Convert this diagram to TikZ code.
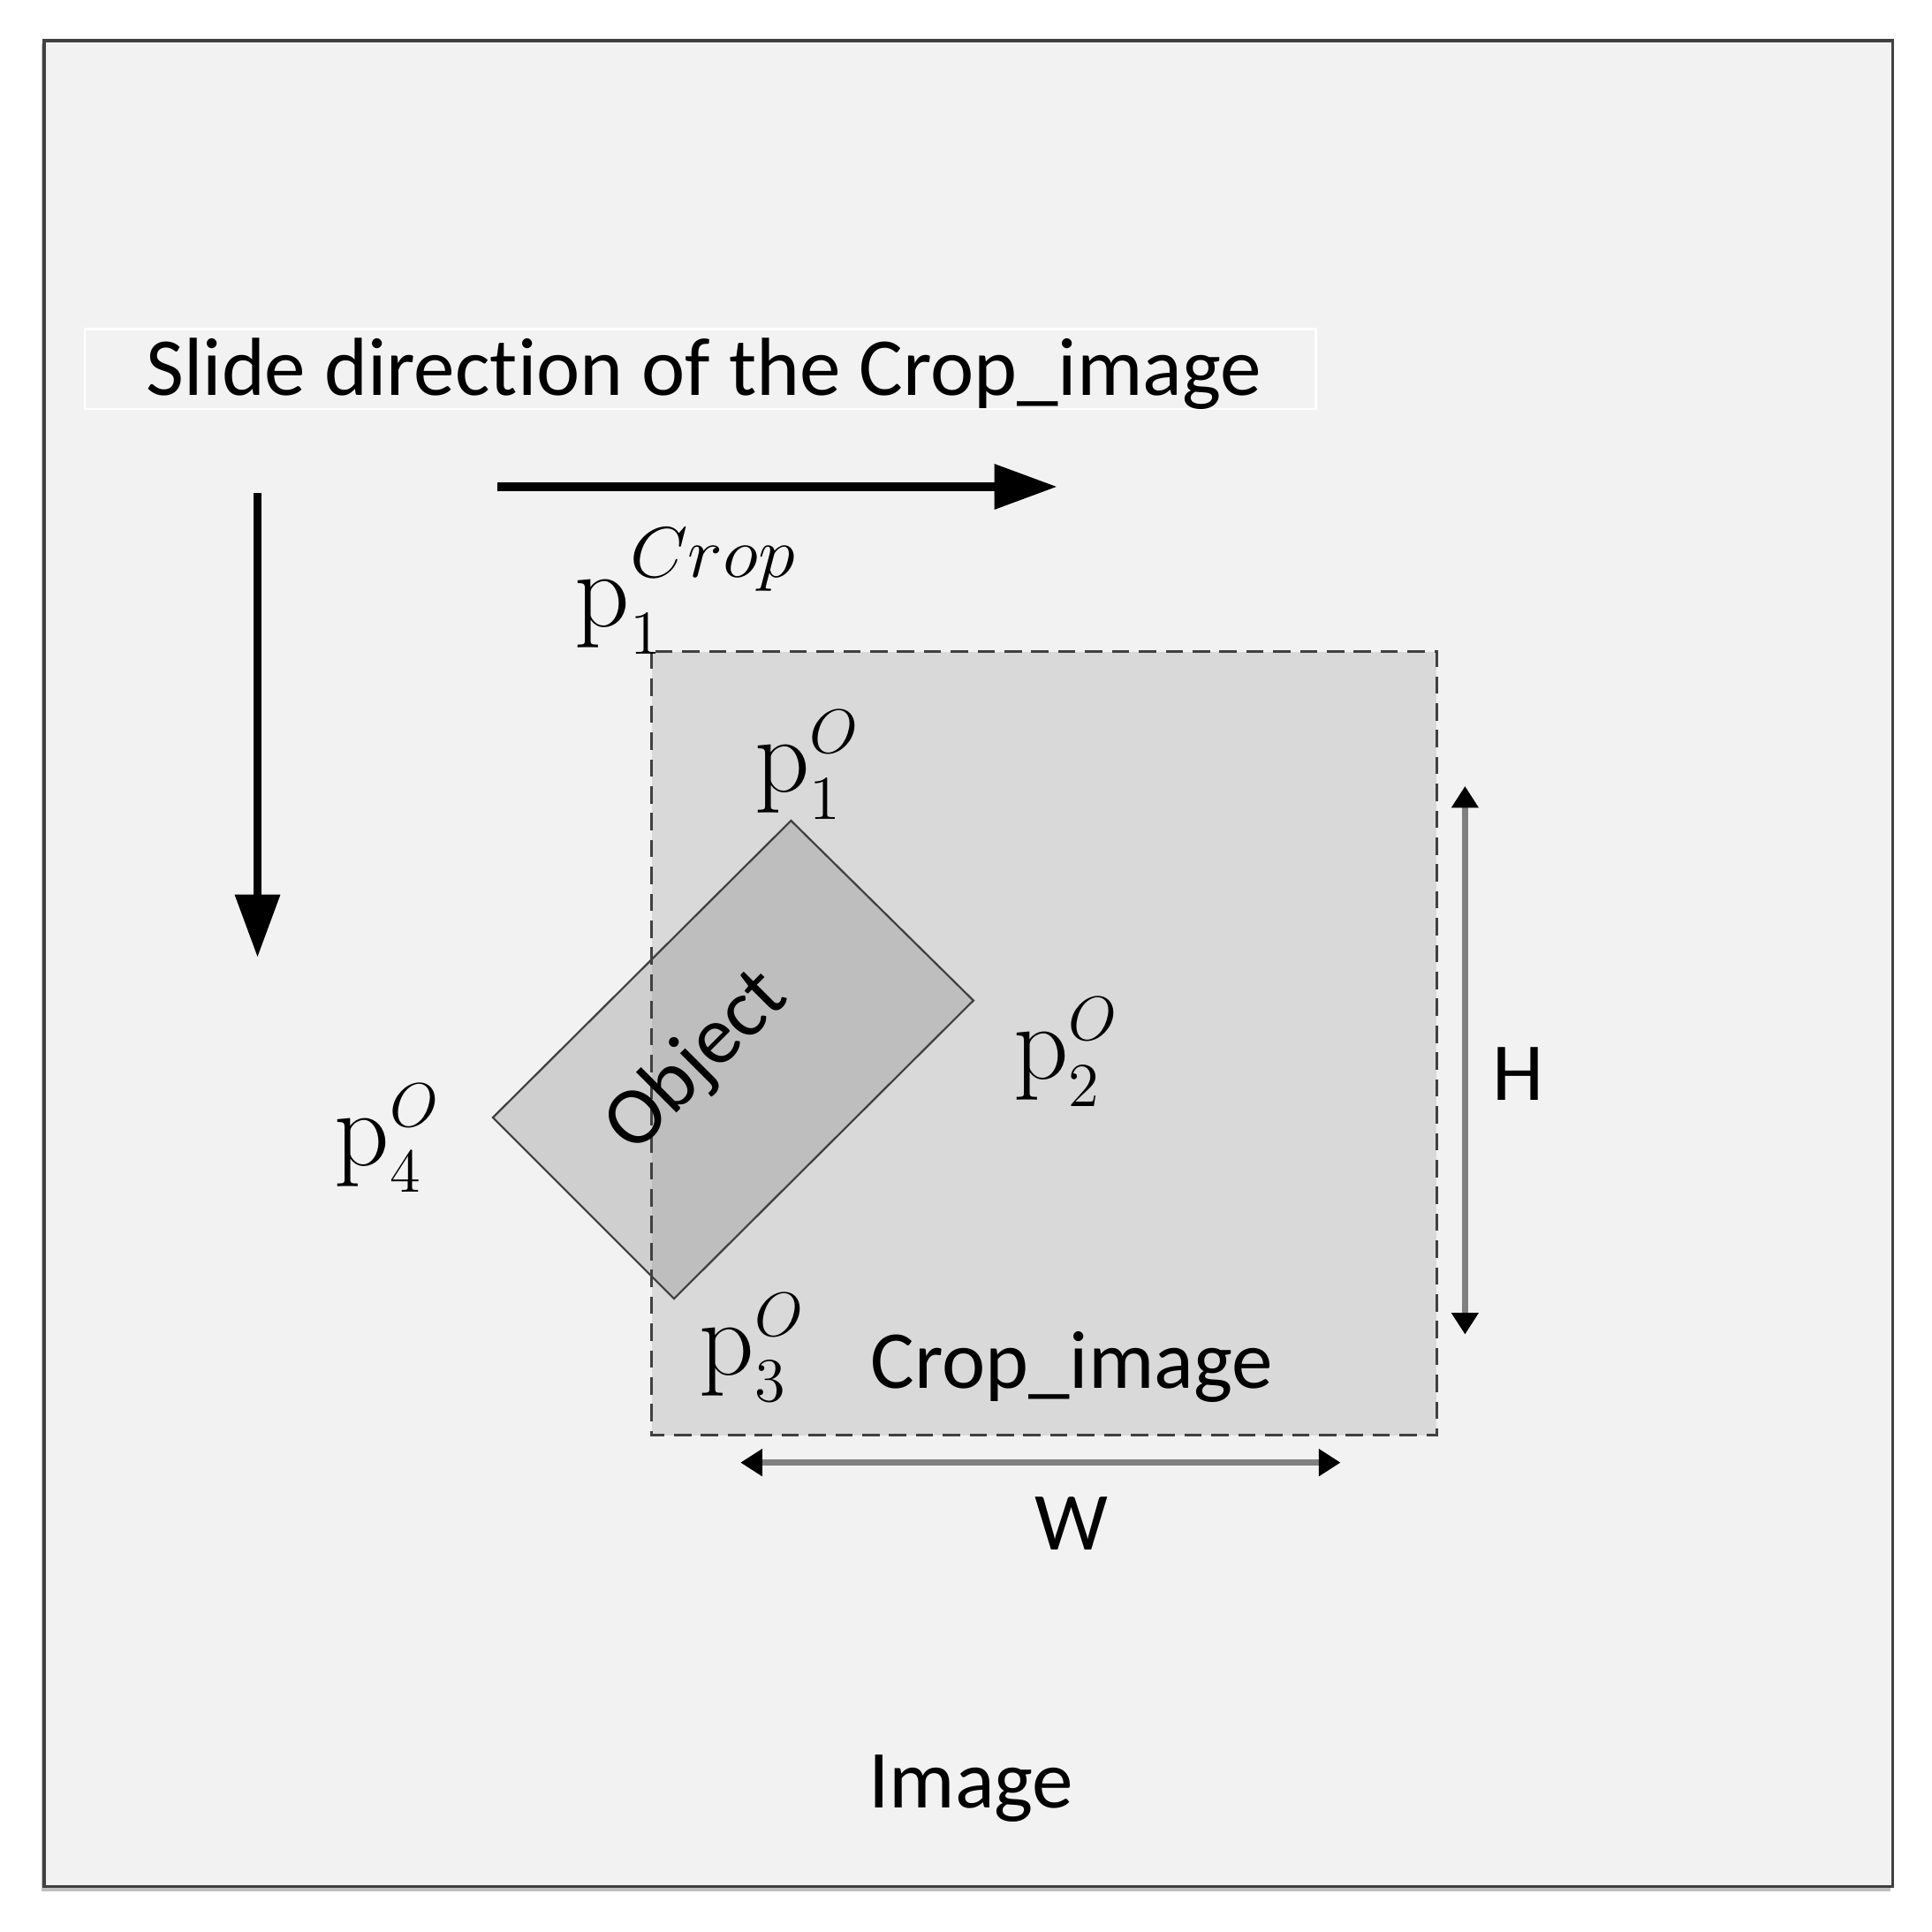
\documentclass[tikz,border=0pt]{standalone}
\usepackage{graphicx}
\usepackage[no-math]{fontspec}
\setmainfont[Ligatures=NoCommon]{Carlito}
\DeclareMathSizes{24.88}{24.88}{14.4}{12}
\usetikzlibrary{arrows.meta}
\definecolor{imgbg}{HTML}{F2F2F2}
\definecolor{cropbg}{HTML}{D9D9D9}
\definecolor{edgegray}{HTML}{404040}
\definecolor{dimgray}{HTML}{808080}
\begin{document}
\begin{tikzpicture}[x=0.01cm,y=-0.01cm,
  pt/.style={inner sep=0pt,anchor=base west,font=\fontsize{24.88}{30}\selectfont},
  txt/.style={inner sep=0pt,anchor=base,font=\fontsize{19}{23}\selectfont},
  slide/.style={line width=2pt,-{Triangle[length=14.5pt,width=10pt]}},
  dim/.style={dimgray,line width=1.4pt,
    {Triangle[length=5pt,width=6pt,color=black]}-{Triangle[length=5pt,width=6pt,color=black]}}]
  \useasboundingbox (0,0) rectangle (1568,1568);
  % image frame
  \fill[black!25] (34,36) rectangle (1534,1535);
  \filldraw[fill=imgbg,draw=edgegray,line width=0.7pt] (36,33) rectangle (1536,1531);
  \draw[white,line width=0.5pt] (69,267) rectangle (1068,332);
  \node[txt,anchor=base west] (title) at (118,321) {Slide direction of the Crop\_image};
  % slide arrows
  \coordinate (r0) at (404,395);
  \coordinate (r1) at (858,395);
  \coordinate (d0) at (209,400);
  \coordinate (d1) at (209,777);
  \draw[slide] (r0) -- (r1);
  \draw[slide] (d0) -- (d1);
  % crop window
  \coordinate (c1) at (529,529);
  \coordinate (c3) at (1166,1165);
  \fill[cropbg] (c1) rectangle (c3);
  % object
  \coordinate (o1) at (642,666);
  \coordinate (o2) at (790,812);
  \coordinate (o3) at (547,1054);
  \coordinate (o4) at (400,907);
  \fill[black!47,opacity=0.32] (o1) -- (o2) -- (o3) -- (o4) -- cycle;
  \draw[edgegray,line width=0.45pt] (o1) -- (o2) -- (o3) -- (o4) -- cycle;
  \draw[edgegray,line width=0.6pt,dash pattern=on 4pt off 2.2pt] (c1) rectangle (c3);
  \node[rotate=45,font=\fontsize{19}{23}\selectfont] (obj) at (566,862) {Object};
  % labels
  \node[pt] (pc) at (466,509)
    {$\mathrm{p}_1^{\raisebox{2.5pt}{\scalebox{1.2}[1.15]{$\scriptstyle Crop$}}}$};
  \node[pt] (po1) at (612,643) {$\mathrm{p}_1^{O}$};
  \node[pt] (po2) at (822,876) {$\mathrm{p}_2^{O}$};
  \node[pt] (po3) at (567,1116) {$\mathrm{p}_3^{O}$};
  \node[pt] (po4) at (271,946) {$\mathrm{p}_4^{O}$};
  \node[txt,anchor=base west] (crop) at (706,1127) {Crop\_image};
  % size arrows
  \coordinate (h0) at (1189,638);
  \coordinate (h1) at (1189,1083);
  \coordinate (w0) at (601,1187);
  \coordinate (w1) at (1088,1187);
  \draw[dim] (h0) -- (h1);
  \draw[dim] (w0) -- (w1);
  \node[txt] (hl) at (1232,893) {H};
  \node[txt] (wl) at (870,1258) {W};
  \node[txt] (img) at (788,1467) {Image};
\end{tikzpicture}
\end{document}
